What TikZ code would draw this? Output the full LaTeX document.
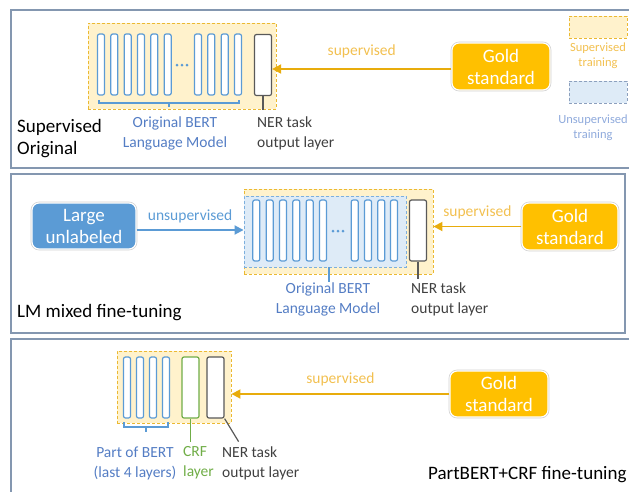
\documentclass[tikz,border=0pt]{standalone}
\usepackage{fontspec}
\setmainfont{Carlito}
\usetikzlibrary{arrows.meta,positioning}
\definecolor{panelgray}{RGB}{132,151,176}
\definecolor{bertblue}{RGB}{91,155,213}
\definecolor{labblue}{RGB}{84,125,196}
\definecolor{nergray}{RGB}{89,89,89}
\definecolor{nertext}{RGB}{64,64,64}
\definecolor{crfgreen}{RGB}{112,173,71}
\definecolor{goldfill}{RGB}{255,192,0}
\definecolor{goldline}{RGB}{232,172,12}
\definecolor{goldtext}{RGB}{242,192,80}
\definecolor{supfill}{RGB}{255,242,204}
\definecolor{supdash}{RGB}{235,185,50}
\definecolor{unsfill}{RGB}{222,235,247}
\definecolor{unsdash}{RGB}{140,160,190}
\definecolor{unstext}{RGB}{143,170,220}

\begin{document}
\begin{tikzpicture}[
    x=1pt, y=-1pt,
    big/.style={font=\fontsize{19}{22}\selectfont},
    mid/.style={font=\fontsize{15.5}{20}\selectfont},
    tiny/.style={font=\fontsize{12.5}{15}\selectfont},
    panel/.style={draw=panelgray, line width=1.2pt},
    layer/.style={rectangle, draw=bertblue, fill=white, rounded corners=2pt, line width=1.2pt, inner sep=0pt, minimum width=7pt, minimum height=61pt},
    nerbar/.style={layer, draw=nergray, minimum width=17pt},
    crfbar/.style={layer, draw=crfgreen, minimum width=17pt},
    suparea/.style={rectangle, draw=supdash, fill=supfill, dash pattern=on 3pt off 2pt, line width=0.9pt, inner sep=0pt},
    unsarea/.style={rectangle, draw=unsdash, fill=unsfill, dash pattern=on 3pt off 2pt, line width=0.9pt, inner sep=0pt},
    inner/.style={unsarea, draw=bertblue!80},
    gold/.style={rectangle, fill=goldfill, draw=white, line width=1.2pt, rounded corners=7pt, text=white, big, align=center, minimum width=98pt, minimum height=47pt, inner sep=0pt,
        preaction={draw=black!18, line width=2.6pt}},
    source/.style={gold, fill=bertblue},
    lead/.style={line width=1.2pt},
    suparrow/.style={-{Triangle[length=9pt, width=9pt]}, draw=goldline, line width=1.8pt},
    unsarrow/.style={-{Triangle[length=9pt, width=9pt]}, draw=bertblue, line width=1.8pt},
    bertlab/.style={mid, text=labblue, align=center, inner sep=0pt},
    nerlab/.style={mid, text=nertext, align=left, anchor=west, inner sep=0pt},
    arrlab/.style={mid, text=goldtext, inner sep=0pt}
]
\useasboundingbox (0,0) rectangle (629,491);

% ---- panel 1: supervised original
\draw[panel] (11,10) rectangle (640,168);
\node[suparea, minimum width=188pt, minimum height=86pt] (yel1) at (182,66) {};
\foreach \i/\x in {1/101,2/114.3,3/127.7,4/141,5/154.3,6/167.7,7/198,8/211.3,9/224.7,10/238}
    \node[layer] (a\i) at (\x,64.5) {};
\foreach \x in {177,182,187}
    \fill[bertblue] (\x,65) circle (1.5);
\node[nerbar] (ner1) at (263,65) {};
\draw[lead, bertblue] (99,100) -- (99,103) -- (239,103) -- (239,100);
\draw[lead, bertblue] (169,103) -- (169,107);
\draw[lead, nergray] (ner1.south) -- ++(0,14);
\node[bertlab] (bert1) at (175,133) {Original BERT\\Language Model};
\node[nerlab] (nerlab1) at (257,133) {NER task\\output layer};
\node[big, align=left, anchor=west, inner sep=0pt] (title1) at (17,139) {Supervised\\Original};

\node[gold] (gold1) at (501,66.5) {Gold\\standard};
\draw[suparrow] ([yshift=-2.5pt]gold1.west) -- ([yshift=-2.5pt]gold1.west -| ner1.east)
    node[arrlab, midway, above=10pt] (sup1) {supervised};

% legend
\node[suparea, minimum width=58pt, minimum height=22pt] (legsup) at (598,27) {};
\node[tiny, text=goldtext, align=center, inner sep=0pt, below=4pt of legsup] (legsuplab) {Supervised\\training};
\node[unsarea, minimum width=58pt, minimum height=22pt] (leguns) at (598,92) {};
\node[tiny, text=unstext, align=center, inner sep=0pt, below=11pt of leguns, xshift=-5pt] (legunslab) {Unsupervised\\training};

% ---- panel 2: LM mixed fine-tuning
\draw[panel] (11,174) rectangle (625,333);
\node[suparea, minimum width=189pt, minimum height=85pt] (yel2) at (338.5,231.5) {};
\node[inner, minimum width=162pt, minimum height=71pt] (blue2) at (325,231.5) {};
\foreach \i/\x in {1/256.3,2/269.7,3/283,4/296.3,5/309.7,6/323,7/354.7,8/368,9/381.3,10/394}
    \node[layer] (b\i) at (\x,230.5) {};
\foreach \x in {333,338,343}
    \fill[bertblue] (\x,231) circle (1.5);
\node[nerbar] (ner2) at (418,230.5) {};
\draw[lead, bertblue] (329,267) -- (329,282);
\draw[lead, nergray] (ner2.south) -- ++(0,17);
\node[bertlab] (bert2) at (328,299.5) {Original BERT\\Language Model};
\node[nerlab] (nerlab2) at (411,299.5) {NER task\\output layer};
\node[big, anchor=west, inner sep=0pt] (title2) at (17,313) {LM mixed fine-tuning};

\node[source, minimum width=104pt, minimum height=46pt] (unlab) at (84,226) {Large\\unlabeled};
\draw[unsarrow] ([yshift=-4pt]unlab.east) -- ([yshift=-4pt]unlab.east -| blue2.west)
    node[mid, text=bertblue, inner sep=0pt, midway, above=6pt] (uns2) {unsupervised};

\node[gold, minimum width=96pt] (gold2) at (570,226.5) {Gold\\standard};
\draw[suparrow] (gold2.west) -- (gold2.west -| yel2.east)
    node[arrlab, midway, above=7pt] (sup2) {supervised};

% ---- panel 3: PartBERT+CRF fine-tuning
\draw[panel] (11,339) rectangle (640,500);
\node[suparea, minimum width=114pt, minimum height=72pt] (yel3) at (174,387) {};
\foreach \i/\x in {1/127,2/140,3/153,4/166}
    \node[layer] (c\i) at (\x,387.5) {};
\node[crfbar] (crf3) at (190.5,387.5) {};
\node[nerbar] (ner3) at (215.5,387.5) {};
\draw[lead, bertblue] (124,422) -- (124,427) -- (168,427) -- (168,422);
\draw[lead, bertblue] (146,427) -- (146,432);
\draw[lead, crfgreen] (crf3.south) -- ++(0,23);
\draw[lead, nergray] (ner3.south east) -- ++(14,23);
\node[bertlab] (bert3) at (135,463) {Part of BERT\\(last 4 layers)};
\node[mid, text=crfgreen, align=left, anchor=west, inner sep=0pt] (crflab3) at (183,463) {CRF\\layer};
\node[nerlab] (nerlab3) at (222,463) {NER task\\output layer};
\node[big, anchor=west, inner sep=0pt] (title3) at (428,475) {PartBERT+CRF fine-tuning};

\node[gold, minimum height=46pt] (gold3) at (499,394) {Gold\\standard};
\draw[suparrow] (gold3.west) -- (gold3.west -| yel3.east)
    node[arrlab, midway, above=7pt] (sup3) {supervised};
\end{tikzpicture}
\end{document}
